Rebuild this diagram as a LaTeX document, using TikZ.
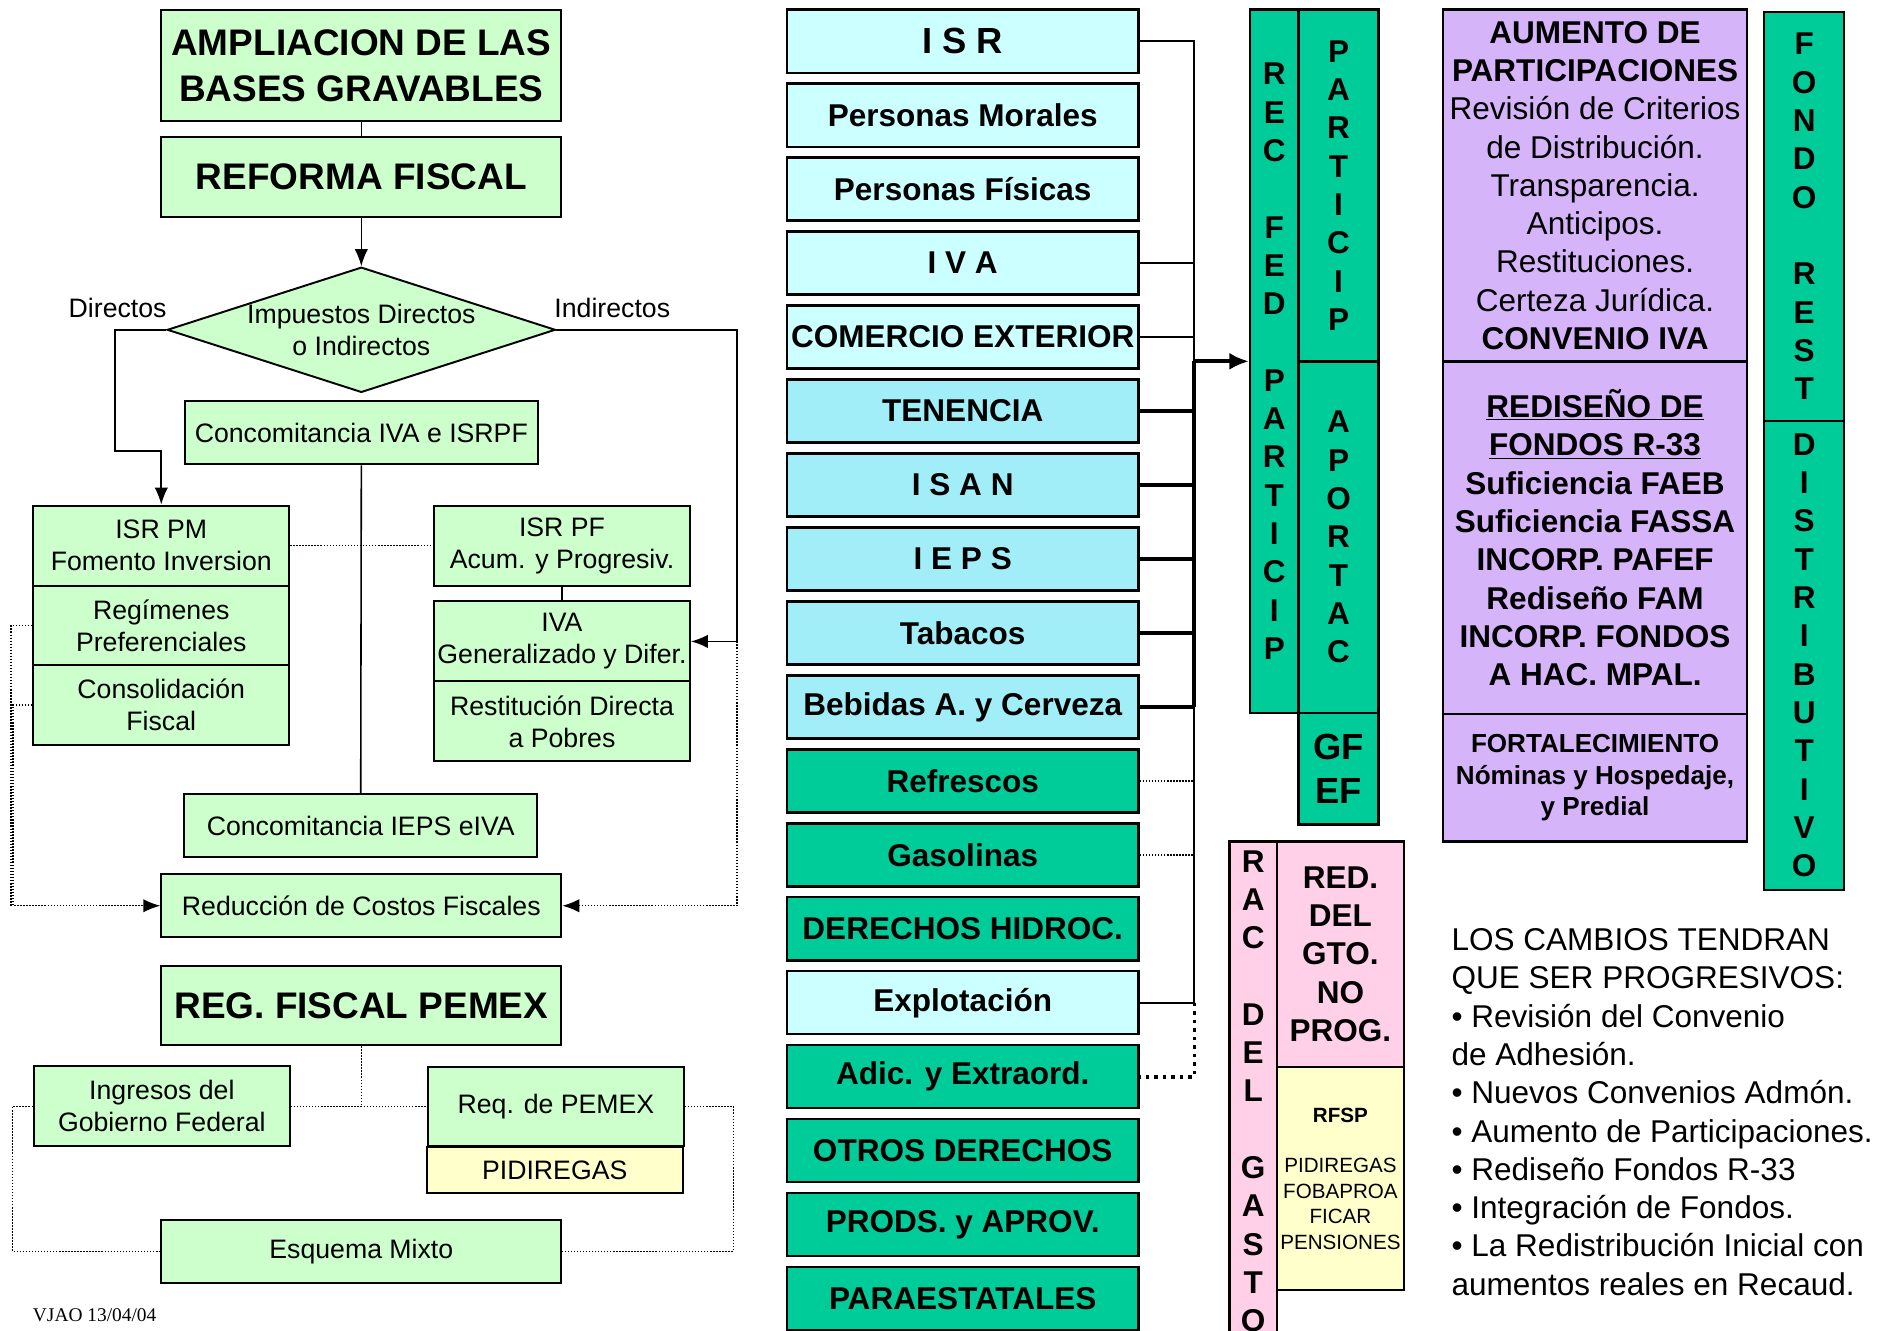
\documentclass[tikz,border=0pt]{standalone}
\usepackage{fontspec}
\setmainfont{Liberation Sans}
\newfontfamily\firmafont{Liberation Serif}
\usetikzlibrary{shapes,arrows.meta}

\definecolor{verdeclaro}{HTML}{CCFFCC}
\definecolor{cianclaro}{HTML}{CCFFFF}
\definecolor{cianmedio}{HTML}{A2EEF8}
\definecolor{verdeagua}{HTML}{00CC99}
\definecolor{rosa}{HTML}{FFD0E8}
\definecolor{amarillo}{HTML}{FFFFCC}
\definecolor{lila}{HTML}{D6B4FA}

\newcommand{\fchica}{\fontsize{22}{26.4}\selectfont}
\newcommand{\fmedia}{\fontsize{26}{31.6}\selectfont}
\newcommand{\fgrande}{\fontsize{30.5}{38}\selectfont}

\tikzstyle{caja} = [rectangle, draw, line width=1.6pt, fill=verdeclaro,
    align=center, inner sep=0pt, font=\fchica]
\tikzstyle{titulo} = [caja, minimum width=330pt, font=\fgrande\bfseries]
\tikzstyle{chica} = [caja, minimum width=211pt, minimum height=66pt]
\tikzstyle{media} = [caja, minimum width=291pt, minimum height=52pt]
\tikzstyle{impuesto} = [rectangle, draw, line width=2pt, fill=cianclaro,
    minimum width=290pt, minimum height=52pt, inner sep=0pt, font=\fmedia\bfseries]
\tikzstyle{columna} = [rectangle, draw, line width=2pt, fill=verdeagua,
    inner sep=0pt, align=center, font=\fmedia\bfseries]
\tikzstyle{etiqueta} = [font=\fchica, inner sep=0pt]
\tikzstyle{line} = [draw, line width=1.3pt, -{Latex[length=14pt,width=11pt]}]
\tikzstyle{punteada} = [draw, line width=1.2pt, dash pattern=on 1.2pt off 1.3pt]
\tikzstyle{flecha} = [-{Latex[length=14pt,width=11pt]}]

\begin{document}
\begin{tikzpicture}[x=1pt, y=-1pt, node distance=61pt]
    \useasboundingbox (0,0) rectangle (1567,1097);
    \fill[white] (0,0) rectangle (1567,1097);

    % reforma fiscal
    \node [titulo, minimum height=92pt] (ampl) at (298,54) {AMPLIACION DE LAS\\BASES GRAVABLES};
    \node [titulo, minimum height=66pt] (refor) at (298,146) {REFORMA FISCAL};
    \node [caja, shape=diamond, aspect=3.1] (imp) at (298,272) {Impuestos Directos\\o Indirectos};
    \node [etiqueta] (ldir) at (97,254) {Directos};
    \node [etiqueta] (lind) at (505,254) {Indirectos};
    \node [media] (conc1) at (298,357) {Concomitancia IVA e ISRPF};
    \node [chica] (isrpm) at (133,450) {ISR PM\\Fomento Inversion};
    \node [chica, below of=isrpm, node distance=66pt] (regim) {Regímenes\\Preferenciales};
    \node [chica, below of=regim, node distance=65.5pt] (consol) {Consolidación\\Fiscal};
    \node [chica] (isrpf) at (463.5,450) {ISR PF\\Acum. y Progresiv.};
    \node [chica, below of=isrpf, node distance=79pt] (ivag) {IVA\\Generalizado y Difer.};
    \node [chica, below of=ivag, node distance=66pt] (restit) {Restitución Directa\\a Pobres};
    \node [media] (conc2) at (297.5,681) {Concomitancia IEPS eIVA};
    \node [caja, minimum width=330pt, minimum height=52pt] (reduc) at (298,747) {Reducción de Costos Fiscales};

    % pemex
    \node [titulo, minimum height=65pt] (pemex) at (298,829.5) {REG. FISCAL PEMEX};
    \node [chica] (ingr) at (133.5,912.5) {Ingresos del\\Gobierno Federal};
    \node [chica, minimum height=65pt] (req) at (458.5,912.5) {Req. de PEMEX};
    \node [chica, fill=amarillo, minimum height=38pt] (pidi) at (457.5,965) {PIDIREGAS};
    \node [caja, minimum width=330pt, minimum height=52pt] (esq) at (298,1032) {Esquema Mixto};
    \node [anchor=west, inner sep=0pt, font=\firmafont\fontsize{16}{19}\selectfont] (firma) at (27,1085) {VJAO 13/04/04};

    \coordinate (codoDir) at (95,372);
    \coordinate (codoInd) at (608,529);
    \coordinate (izqA) at (9,747);
    \draw [line width=1.3pt] (ampl) -- (refor);
    \path [line] (refor) -- (imp);
    \path [line] (imp.west) -| (codoDir) -| (isrpm.north);
    \path [line] (imp.east) -| (codoInd) -- (ivag.east);
    \draw [line width=1.3pt] (conc1.south) -- (conc2.north);
    \draw [line width=1.3pt] (isrpf.south) -- (ivag.north);
    \draw [punteada] (isrpm.east) -- (isrpf.west);
    \draw [punteada] (regim.west) -| (izqA);
    \path [punteada, flecha] (consol.west) -- ++(-16,0) |- (reduc.west);
    \path [punteada, flecha] (codoInd) |- (reduc.east);
    \draw [punteada] (pemex.south) -- (pemex.south |- ingr.east);
    \draw [punteada] (ingr.east) -- (req.west);
    \draw [punteada] (ingr.west) -- ++(-17,0) |- (esq.west);
    \draw [punteada] (req.east) -- ++(40,0) |- (esq.east);

    % recaudacion federal
    \node [impuesto] (isr) at (794,34) {\fontsize{30}{36}\selectfont I S R};
    \node [impuesto, below of=isr] (pmor) {Personas Morales};
    \node [impuesto, below of=pmor] (pfis) {Personas Físicas};
    \node [impuesto, below of=pfis] (iva) {I V A};
    \node [impuesto, below of=iva] (comext) {COMERCIO EXTERIOR};
    \node [impuesto, fill=cianmedio, below of=comext] (tenen) {TENENCIA};
    \node [impuesto, fill=cianmedio, below of=tenen] (isan) {I S A N};
    \node [impuesto, fill=cianmedio, below of=isan] (ieps) {I E P S};
    \node [impuesto, fill=cianmedio, below of=ieps] (tabac) {Tabacos};
    \node [impuesto, fill=cianmedio, below of=tabac] (bebid) {Bebidas A. y Cerveza};
    \node [impuesto, fill=verdeagua, below of=bebid] (refres) {Refrescos};
    \node [impuesto, fill=verdeagua, below of=refres] (gasol) {Gasolinas};
    \node [impuesto, fill=verdeagua, below of=gasol] (dhidro) {DERECHOS HIDROC.};
    \node [impuesto, below of=dhidro] (explot) {Explotación};
    \node [impuesto, fill=verdeagua, below of=explot] (adic) {Adic. y Extraord.};
    \node [impuesto, fill=verdeagua, below of=adic] (otrosd) {OTROS DERECHOS};
    \node [impuesto, fill=verdeagua, below of=otrosd] (prods) {PRODS. y APROV.};
    \node [impuesto, fill=verdeagua, below of=prods] (paraes) {PARAESTATALES};

    \node [columna, minimum width=40pt, minimum height=580pt] (recfed) at (1051,298)
        {R\\E\\C\\[31.6pt]F\\E\\D\\[31.6pt]P\\A\\R\\T\\I\\C\\I\\P};
    \node [columna, minimum width=66pt, minimum height=290pt] (partic) at (1104,153)
        {P\\A\\R\\T\\I\\C\\I\\P};
    \node [columna, minimum width=66pt, minimum height=290pt] (aport) at (1104,443)
        {A\\P\\O\\R\\T\\A\\C};
    \node [columna, minimum width=66pt, minimum height=92pt,
        font=\fontsize{30}{36}\selectfont\bfseries] (gfef) at (1104,634) {GF\\EF};

    \coordinate (bus) at (985,298);
    \draw [line width=1.6pt] (isr.east) -| (bus) |- (explot.east);
    \foreach \n in {iva,comext}
        \draw [line width=1.6pt] (\n.east) -- (\n.east -| bus);
    \foreach \n in {tenen,isan,ieps,tabac,bebid}
        \draw [line width=3.5pt] (\n.east) -- (\n.east -| bus);
    \draw [line width=3.5pt] (bus) -- (bebid.east -| bus);
    \foreach \n in {refres,gasol}
        \draw [punteada] (\n.east) -- (\n.east -| bus);
    \draw [line width=3pt, dash pattern=on 3pt off 4pt] (explot.east -| bus) |- (adic.east);
    \path [draw, line width=3.5pt, -{Latex[length=16pt,width=14pt]}] (bus) -- (recfed.west);

    % gasto
    \node [columna, fill=rosa, minimum width=39pt, minimum height=412pt] (racgasto) at (1033.5,900)
        {R\\A\\C\\[31.5pt]D\\E\\L\\[31.5pt]G\\A\\S\\T\\O};
    \node [columna, fill=rosa, minimum width=105pt, minimum height=186pt] (redgto) at (1105.5,787)
        {RED.\\DEL\\GTO.\\NO\\PROG.};
    \node [columna, fill=amarillo, minimum width=105pt, minimum height=184pt,
        font=\fontsize{17}{21}\selectfont] (rfsp) at (1105.5,972)
        {\textbf{RFSP}\\[21pt]PIDIREGAS\\FOBAPROA\\FICAR\\PENSIONES};

    % propuestas
    \node [columna, fill=lila, minimum width=251pt, minimum height=290pt, font=\fmedia] (aumento) at (1315.5,153)
        {\textbf{AUMENTO DE}\\\textbf{PARTICIPACIONES}\\Revisión de Criterios\\de Distribución.\\Transparencia.\\Anticipos.\\Restituciones.\\Certeza Jurídica.\\\textbf{CONVENIO IVA}};
    \node [columna, fill=lila, minimum width=251pt, minimum height=291pt] (redisenio) at (1315.5,443.5)
        {\underline{REDISEÑO DE}\\\underline{FONDOS R-33}\\Suficiencia FAEB\\Suficiencia FASSA\\INCORP. PAFEF\\Rediseño FAM\\INCORP. FONDOS\\A HAC. MPAL.};
    \node [columna, fill=lila, minimum width=251pt, minimum height=105pt,
        font=\fontsize{21.5}{26}\selectfont\bfseries] (fortal) at (1315.5,641.5)
        {FORTALECIMIENTO\\Nóminas y Hospedaje,\\y Predial};
    \node [columna, minimum width=66pt, minimum height=337pt] (fondo) at (1488,178.5)
        {F\\O\\N\\D\\O\\[31.5pt]R\\E\\S\\T};
    \node [columna, minimum width=66pt, minimum height=387pt] (distrib) at (1488,540.5)
        {D\\I\\S\\T\\R\\I\\B\\U\\T\\I\\V\\O};

    \node [anchor=north west, align=left, inner sep=0pt, font=\fmedia] (cambios) at (1197,765.5)
        {LOS CAMBIOS TENDRAN\\QUE SER PROGRESIVOS:\\• Revisión del Convenio\\de Adhesión.\\• Nuevos Convenios Admón.\\• Aumento de Participaciones.\\• Rediseño Fondos R-33\\• Integración de Fondos.\\• La Redistribución Inicial con\\aumentos reales en Recaud.};
\end{tikzpicture}
\end{document}
